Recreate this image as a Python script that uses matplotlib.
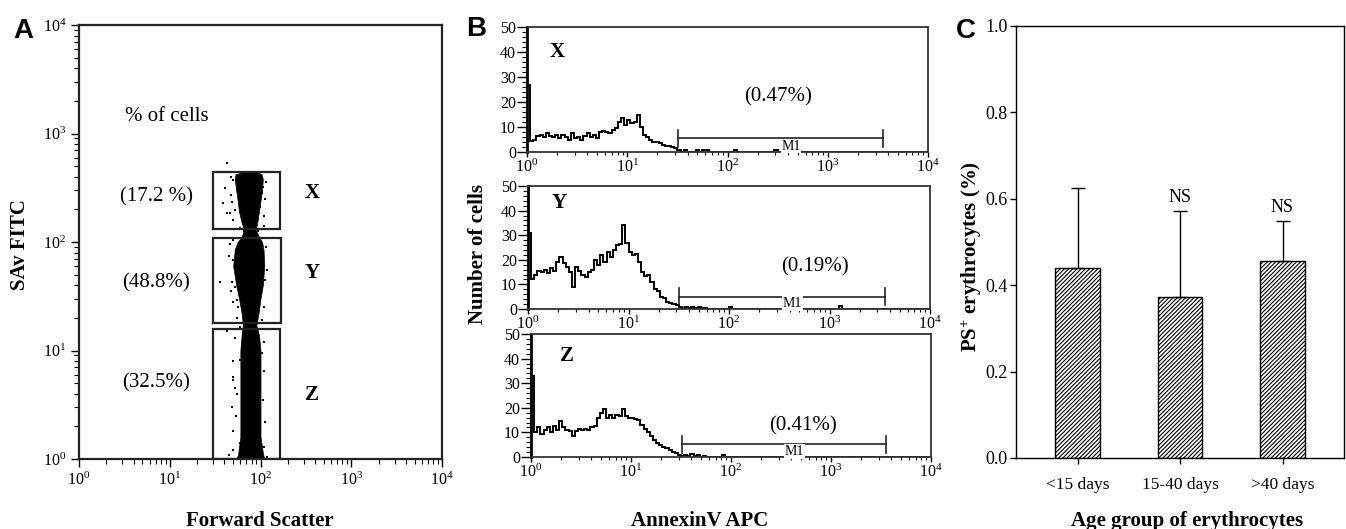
import numpy as np
import matplotlib
matplotlib.use('Agg')
import matplotlib.pyplot as plt
from matplotlib.ticker import LogLocator, NullFormatter, MultipleLocator, FormatStrFormatter

plt.rcParams['font.family'] = ['Liberation Serif', 'DejaVu Serif']
plt.rcParams['mathtext.fontset'] = 'custom'
plt.rcParams['mathtext.rm'] = 'Liberation Serif'
plt.rcParams['mathtext.it'] = 'Liberation Serif:italic'
plt.rcParams['mathtext.bf'] = 'Liberation Serif:bold'
plt.rcParams['hatch.linewidth'] = 0.8

# ---------------- Panel A data ----------------
gate_names = ['X', 'Y', 'Z']
gate_pct = ['(17.2 %)', '(48.8%)', '(32.5%)']
gate_fsc_lo = [30, 30, 30]
gate_fsc_hi = [164, 170, 164]
gate_sav_lo = [131, 17.8, 1.0]
gate_sav_hi = [439, 108, 15.7]

core_sav = [445, 420, 380, 300, 240, 190, 150, 130, 112, 100, 85, 60, 40, 30, 22, 17,
            14, 10, 6, 3, 1.6, 1.15, 1.0]
core_fsc_lo = [66, 53, 52, 54, 56, 58, 62, 66, 62, 56, 52, 50, 54, 58, 62, 64,
               62, 60, 60, 60, 60, 57, 55]
core_fsc_hi = [90, 103, 106, 104, 100, 96, 92, 88, 96, 104, 108, 110, 106, 100, 95, 90,
               96, 100, 100, 100, 100, 106, 110]

outlier_fsc = [42.4, 40.6, 38.9, 42.4, 46.1, 103, 107, 103, 52.4, 98.7, 48.2, 50.1,
               50.1, 35.8, 48.2, 52.4, 107, 103, 54.5, 56.9, 98.7, 50.1, 94.6, 90.8,
               42.4, 50.1, 50.1, 48.2, 62.1, 59.4, 103, 98.7, 54.5, 62.1, 94.6, 59.4,
               98.7, 50.1, 56.9,
               47, 115, 112, 47, 50, 110, 108, 60, 95, 46, 116, 45, 118, 47, 113, 50,
               110, 55, 104, 70, 60, 52, 108, 50, 110, 52, 107, 54, 112, 50, 108, 45,
               118, 65, 85, 75, 90]
outlier_sav = [531, 313, 228, 184, 184, 373, 323, 281, 197, 211, 235, 373,
               104, 43.1, 43.1, 38.7, 68.2, 59.2, 29.2, 25.4, 47.9, 68.2, 101, 112,
               15.1, 5.7, 5.35, 3.03, 10.8, 8.2, 9.4, 7.1, 4.0, 1.99, 2.64, 1.40,
               1.61, 1.21, 1.02,
               400, 360, 250, 270, 160, 175, 140, 135, 125, 95, 90, 75, 55, 35, 45, 28,
               25, 20, 19, 17, 16.5, 13, 12, 8, 6.5, 4.5, 3.5, 2.5, 2.2, 1.8, 1.3, 1.1,
               1.05, 125, 135, 16, 15.8]

# ---------------- Panel B data (32 channels per decade, 10^0..10^4) ----------------
hist_names = ['X', 'Y', 'Z']
hist_pct = ['(0.47%)', '(0.19%)', '(0.41%)']
counts_X = ([27, 4.5, 5, 6.5, 7, 6, 7.5, 6.5, 6, 7, 5.5, 7, 6, 5, 7.5, 5.5, 6, 5, 6.5, 7.5,
             6, 7, 5.5, 8, 8.5, 8, 7.5, 9, 9.5, 12, 13.5, 11, 13, 11.5, 12, 15, 10, 7, 6, 5,
             4, 4, 3.5, 3, 2.5, 2.5, 2, 1.5, 1, 0, 0.8, 0, 0, 0, 0.8, 0, 0.8, 0.8]
            + [0] * 8 + [0.8] + [0] * 12 + [0.8] + [0] * 48)
counts_Y = ([31, 12, 14, 15.5, 15, 16, 14.5, 16.5, 15.5, 19, 21, 18.5, 17, 15, 9, 17, 15.5,
             14, 13, 15, 16, 20, 18, 22, 19, 23, 21, 24, 26, 26.5, 34, 27, 23, 22, 22.5, 19,
             15, 13.5, 14, 11, 8, 7.5, 5, 4.5, 3, 2.5, 2, 1.5, 1, 0.5, 0.8, 0.3, 0.8, 0.3,
             0.8, 0.3, 0.6]
            + [0] * 7 + [1] + [0] * 34 + [1.2] + [0] * 28)
counts_Z = ([33, 10, 12, 9.5, 11, 12, 10, 12.5, 11, 14.5, 12, 11, 10.5, 8.5, 10.5, 11.5, 11,
             11.5, 11, 12, 12.5, 16, 18, 19.5, 16, 17, 16, 17, 16.5, 19.5, 16.5, 16, 16, 15.5,
             15, 13, 11.5, 10, 8.5, 7, 5.5, 5, 4, 3.5, 3, 2, 1.5, 1, 0.5, 1, 0.3, 1.2, 0.5,
             0.8, 0.2, 0.5]
            + [0] * 5 + [0.8] + [0] * 66)
hist_counts = [counts_X, counts_Y, counts_Z]
m1_lo, m1_hi = 32, 3550
m1_level = [5.5, 5.0, 5.2]

# ---------------- Panel C data ----------------
age_groups = ['<15 days', '15-40 days', '>40 days']
ps_mean = [0.439, 0.373, 0.456]
ps_err = [0.185, 0.199, 0.093]
ps_sig = ['', 'NS', 'NS']

# ---------------- Figure ----------------
W, H = 1346, 529
fig = plt.figure(figsize=(W / 100, H / 100), dpi=100)


def ax_px(l, t, r, b):
    return fig.add_axes([l / W, 1 - b / H, (r - l) / W, (b - t) / H])


def log_axis(ax, axis):
    a = ax.xaxis if axis == 'x' else ax.yaxis
    a.set_major_locator(LogLocator(base=10, numticks=10))
    a.set_minor_locator(LogLocator(base=10, subs=np.arange(2, 10), numticks=100))
    a.set_minor_formatter(NullFormatter())


# Panel A
axA = ax_px(79, 25, 442, 459)
axA.set_xscale('log')
axA.set_yscale('log')
axA.fill_betweenx(core_sav, core_fsc_lo, core_fsc_hi, color='black', lw=0.5)
axA.plot(outlier_fsc, outlier_sav, 's', ms=2.0, color='black', mew=0)
for i in range(3):
    x0, x1 = gate_fsc_lo[i], gate_fsc_hi[i]
    y0, y1 = gate_sav_lo[i], gate_sav_hi[i]
    axA.plot([x0, x1, x1, x0, x0], [y0, y0, y1, y1, y0], color='#222222', lw=1.6,
             solid_joinstyle='miter')
axA.set_xlim(1, 1e4)
axA.set_ylim(1, 1e4)
log_axis(axA, 'x')
log_axis(axA, 'y')
axA.tick_params(which='major', direction='out', length=6, width=1.0, labelsize=11.5, pad=3)
axA.tick_params(which='minor', direction='out', length=3.5, width=0.8)
for s in axA.spines.values():
    s.set_linewidth(1.6)
    s.set_color('#222222')
axA.text(3.2, 1420, '% of cells', fontsize=15, va='center', ha='left')
pct_y = [260, 41.9, 5.0]
name_y = [283, 51.8, 3.89]
for i in range(3):
    axA.text(7.1, pct_y[i], gate_pct[i], fontsize=15, ha='center', va='center')
    axA.text(369, name_y[i], gate_names[i], fontsize=15, fontweight='bold',
             ha='center', va='center')
fig.text(20 / W, 1 - 245 / H, 'SAv FITC', rotation=90, fontsize=15, fontweight='bold',
         ha='center', va='center')
fig.text(260 / W, 1 - 526 / H, 'Forward Scatter', fontsize=15, fontweight='bold',
         ha='center', va='baseline')

# Panel B
edges = 10 ** (np.arange(129) / 32)
b_boxes = [(527, 27, 928, 152), (528, 186, 930, 309), (531, 334, 931, 457)]
pct_pos = [(316, 22), (718, 17), (525, 12.6)]
name_pos = [(2.0, 40), (2.05, 43), (2.3, 41)]
for i in range(3):
    ax = ax_px(*b_boxes[i])
    ax.set_xscale('log')
    ax.stairs(hist_counts[i], edges, color='black', lw=1.4, baseline=0)
    ax.plot([m1_lo, m1_hi], [m1_level[i], m1_level[i]], color='#222222', lw=1.2)
    for xm in (m1_lo, m1_hi):
        ax.plot([xm, xm], [m1_level[i] - 3.5, m1_level[i] + 3.5], color='#222222', lw=1.2)
    ax.text(430, 2.3, 'M1', fontsize=10, ha='center', va='center',
            bbox=dict(facecolor='white', edgecolor='none', pad=0.5))
    ax.text(pct_pos[i][0], pct_pos[i][1], hist_pct[i], fontsize=15, ha='center', va='center')
    ax.text(name_pos[i][0], name_pos[i][1], hist_names[i], fontsize=15, fontweight='bold',
            ha='center', va='center')
    ax.set_xlim(1, 1e4)
    ax.set_ylim(0, 50)
    log_axis(ax, 'x')
    ax.yaxis.set_major_locator(MultipleLocator(10))
    ax.yaxis.set_minor_locator(MultipleLocator(2))
    ax.tick_params(axis='y', which='major', direction='out', length=7, width=1.0,
                   labelsize=11.5, pad=1)
    ax.tick_params(axis='y', which='minor', direction='out', length=3.5, width=0.8)
    ax.tick_params(axis='x', which='major', direction='out', length=3.5, width=1.0,
                   labelsize=11.5, pad=1)
    ax.tick_params(axis='x', which='minor', direction='out', length=2.5, width=0.8)
    for s in ax.spines.values():
        s.set_linewidth(1.3)
        s.set_color('#333333')
    ax.spines['left'].set_linewidth(2.0)
    ax.spines['left'].set_color('black')
fig.text(478 / W, 1 - 254 / H, 'Number of cells', rotation=90, fontsize=15,
         fontweight='bold', ha='center', va='center')
fig.text(700 / W, 1 - 526 / H, 'AnnexinV APC', fontsize=15, fontweight='bold',
         ha='center', va='baseline')

# Panel C
axC = ax_px(1016, 26, 1344, 458)
xpos = np.arange(len(age_groups))
axC.bar(xpos, ps_mean, width=0.43, color='white', edgecolor='black', linewidth=1.0,
        hatch='////////', zorder=2)
axC.errorbar(xpos, ps_mean, yerr=[np.zeros(len(ps_err)), ps_err], fmt='none',
             ecolor='black', elinewidth=1.0, capsize=5, capthick=1.0, zorder=3)
for i in range(len(age_groups)):
    if ps_sig[i]:
        axC.text(xpos[i], ps_mean[i] + ps_err[i] + 0.012, ps_sig[i], fontsize=13,
                 ha='center', va='bottom')
axC.set_xlim(-0.6, 2.6)
axC.set_ylim(0, 1.0)
axC.set_xticks(xpos)
axC.set_xticklabels(age_groups)
axC.yaxis.set_major_locator(MultipleLocator(0.2))
axC.yaxis.set_major_formatter(FormatStrFormatter('%.1f'))
axC.tick_params(axis='y', direction='out', length=4.5, width=1.0, labelsize=13, pad=1.5)
axC.tick_params(axis='x', direction='out', length=4.0, width=1.0, labelsize=12.5, pad=9.5)
for s in axC.spines.values():
    s.set_linewidth(1.0)
    s.set_color('black')
fig.text(972 / W, 1 - 257 / H, r'PS$^{\mathbf{+}}$ erythrocytes (%)', rotation=90,
         fontsize=15, fontweight='bold', ha='center', va='center')
fig.text(1187 / W, 1 - 526 / H, 'Age group of erythrocytes', fontsize=15,
         fontweight='bold', ha='center', va='baseline')

# Panel letters
for lx, ly, lt in [(23, 31, 'A'), (476, 29, 'B'), (966, 31, 'C')]:
    fig.text(lx / W, 1 - ly / H, lt, family='Liberation Sans', fontsize=20,
             fontweight='bold', ha='center', va='center')

fig.savefig('out.png', dpi=100)
